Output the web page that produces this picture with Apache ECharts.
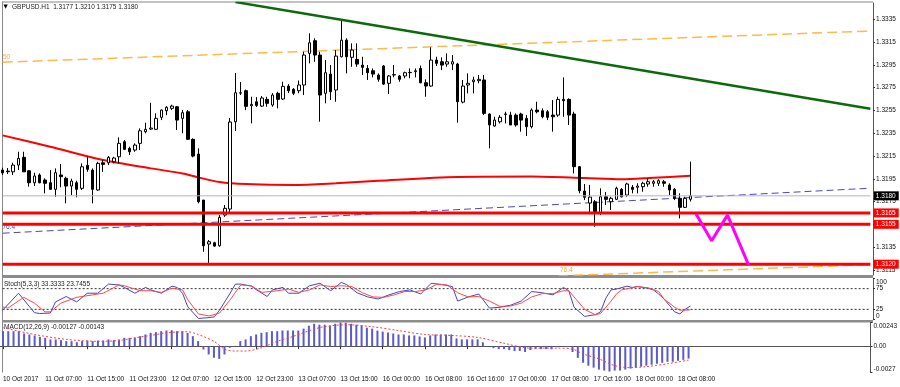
<!DOCTYPE html>
<html><head><meta charset="utf-8">
<script src="https://cdn.jsdelivr.net/npm/echarts@6/dist/echarts.min.js"></script>
<style>html,body{margin:0;padding:0;background:#fff}#c{width:900px;height:387px}</style>
</head><body><div id="c"></div>
<script>
// ---------- DATA ----------
const symbol = 'GBPUSD.H1';
const open = [1.32026,1.32017,1.32011,1.32070,1.32138,1.32020,1.31915,1.31983,1.31939,1.31915,1.31857,1.31983,1.31954,1.31886,1.31915,1.31866,1.32068,1.32026,1.31851,1.32090,1.32090,1.32099,1.32143,1.32275,1.32217,1.32202,1.32261,1.32363,1.32386,1.32384,1.32489,1.32547,1.32568,1.32582,1.32480,1.32538,1.32296,1.32167,1.31763,1.31377,1.31388,1.31362,1.31631,1.31684,1.32450,1.32702,1.32723,1.32591,1.32626,1.32588,1.32647,1.32597,1.32700,1.32650,1.32764,1.32735,1.32723,1.32773,1.33051,1.33162,1.33036,1.32700,1.32869,1.32729,1.33021,1.33167,1.33016,1.32998,1.32948,1.32919,1.32898,1.32861,1.32940,1.32788,1.32861,1.32852,1.32852,1.32881,1.32890,1.32918,1.32793,1.32764,1.32992,1.32977,1.32957,1.32957,1.32957,1.32623,1.32773,1.32802,1.32811,1.32817,1.32518,1.32413,1.32450,1.32518,1.32509,1.32509,1.32518,1.32480,1.32407,1.32553,1.32547,1.32538,1.32509,1.32509,1.32647,1.32647,1.32518,1.32056,1.31842,1.31737,1.31748,1.31646,1.31792,1.31748,1.31769,1.31857,1.31807,1.31875,1.31875,1.31880,1.31904,1.31910,1.31910,1.31924,1.31895,1.31857,1.31778,1.31699,1.3177];
const high = [1.32047,1.32044,1.32091,1.32187,1.32187,1.32026,1.32003,1.31997,1.31954,1.32026,1.32041,1.32079,1.31968,1.31950,1.31933,1.32085,1.32143,1.32041,1.32099,1.32114,1.32149,1.32143,1.32313,1.32290,1.32231,1.32261,1.32392,1.32442,1.32617,1.32524,1.32559,1.32588,1.32600,1.32588,1.32553,1.32553,1.32305,1.32217,1.31763,1.31412,1.31397,1.31631,1.31719,1.32483,1.32878,1.32799,1.32733,1.32670,1.32667,1.32676,1.32670,1.32702,1.32714,1.32802,1.32781,1.32746,1.32812,1.33065,1.33227,1.33183,1.33065,1.32992,1.32948,1.33080,1.33345,1.33183,1.33139,1.33139,1.33021,1.32948,1.32919,1.32875,1.32948,1.32861,1.32948,1.32861,1.32890,1.32919,1.32919,1.32944,1.32823,1.33104,1.33021,1.33016,1.33051,1.33036,1.32968,1.32817,1.32875,1.32846,1.32861,1.32861,1.32524,1.32494,1.32509,1.32538,1.32538,1.32524,1.32530,1.32509,1.32568,1.32626,1.32568,1.32553,1.32641,1.32670,1.32840,1.32656,1.32538,1.32062,1.31904,1.31895,1.31763,1.31866,1.31833,1.31792,1.31880,1.31868,1.31915,1.31895,1.31910,1.31924,1.31954,1.31939,1.31945,1.31939,1.31910,1.31868,1.31822,1.31792,1.3210];
const low = [1.31983,1.31991,1.31983,1.32026,1.32009,1.31880,1.31886,1.31910,1.31822,1.31851,1.31792,1.31875,1.31734,1.31807,1.31787,1.31851,1.32011,1.31734,1.31845,1.32011,1.32070,1.32085,1.32085,1.32202,1.32158,1.32187,1.32202,1.32349,1.32378,1.32378,1.32465,1.32509,1.32553,1.32378,1.32349,1.32290,1.32138,1.31734,1.31309,1.31192,1.31353,1.31353,1.31616,1.31658,1.32369,1.32685,1.32553,1.32436,1.32580,1.32580,1.32582,1.32582,1.32568,1.32641,1.32702,1.32685,1.32700,1.32685,1.32963,1.32977,1.32451,1.32612,1.32641,1.32626,1.33016,1.32875,1.32933,1.32933,1.32861,1.32817,1.32840,1.32802,1.32773,1.32694,1.32840,1.32802,1.32832,1.32832,1.32840,1.32788,1.32670,1.32758,1.32940,1.32904,1.32933,1.32904,1.32442,1.32612,1.32700,1.32700,1.32788,1.32509,1.32217,1.32407,1.32436,1.32436,1.32422,1.32407,1.32363,1.32325,1.32392,1.32524,1.32480,1.32465,1.32363,1.32494,1.32494,1.32422,1.31997,1.31822,1.31763,1.31646,1.31529,1.31631,1.31719,1.31675,1.31763,1.31785,1.31792,1.31822,1.31822,1.31836,1.31880,1.31880,1.31886,1.31880,1.31807,1.31763,1.31602,1.31693,1.3175];
const close = [1.32002,1.32012,1.32070,1.32129,1.32011,1.31915,1.31974,1.31915,1.31910,1.31857,1.32003,1.31968,1.31886,1.31930,1.31857,1.32055,1.32033,1.31857,1.32085,1.32076,1.32138,1.32132,1.32261,1.32208,1.32187,1.32246,1.32371,1.32384,1.32395,1.32480,1.32553,1.32577,1.32588,1.32465,1.32530,1.32296,1.32149,1.31748,1.31362,1.31397,1.31359,1.31611,1.31690,1.32448,1.32705,1.32705,1.32586,1.32603,1.32594,1.32659,1.32612,1.32685,1.32647,1.32761,1.32723,1.32700,1.32773,1.33036,1.33144,1.33036,1.32685,1.32881,1.32714,1.33027,1.33167,1.33021,1.33080,1.32957,1.32928,1.32881,1.32869,1.32823,1.32781,1.32852,1.32864,1.32823,1.32881,1.32884,1.32898,1.32793,1.32764,1.32992,1.32963,1.32948,1.32977,1.32977,1.32626,1.32764,1.32788,1.32817,1.32823,1.32524,1.32422,1.32465,1.32489,1.32515,1.32422,1.32422,1.32465,1.32407,1.32553,1.32538,1.32494,1.32489,1.32494,1.32647,1.32635,1.32509,1.32056,1.31845,1.31787,1.31789,1.31660,1.31792,1.31769,1.31778,1.31866,1.31792,1.31904,1.31857,1.31886,1.31910,1.31924,1.31924,1.31933,1.31910,1.31851,1.31778,1.31699,1.31778,1.3180];

const timeLabels = ['10 Oct 2017','11 Oct 07:00','11 Oct 15:00','11 Oct 23:00','12 Oct 07:00','12 Oct 15:00','12 Oct 23:00','13 Oct 07:00','13 Oct 15:00','16 Oct 00:00','16 Oct 08:00','16 Oct 16:00','17 Oct 00:00','17 Oct 08:00','17 Oct 16:00','18 Oct 00:00','18 Oct 08:00'];
const totalSlots = 165;
const priceTicks = [1.3115,1.3135,1.3155,1.3175,1.3195,1.3215,1.3235,1.3255,1.3275,1.3295,1.3315,1.3335];
const priceMin = 1.31105, priceMax = 1.33493;
const redLevels = [1.3165, 1.3155, 1.3120];

// moving average read at sample bars [barIndex, price]
const redMA = [[0,1.32331],[9,1.32231],[19,1.32114],[28,1.32041],[34,1.31997],[37,1.31962],[41,1.31921],[46,1.31903],[55,1.31895],[63,1.31910],[71,1.31932],[86,1.31965],[100,1.31969],[110,1.31956],[117,1.31945],[123,1.31959],[130,1.31976]];
// drawn objects [barIndex, price]
const greenTrend = [[44,1.33501],[64,1.33345],[164,1.32565]];
const blueDashed = [[0,1.31472],[164,1.31867]];
const orangeUpper = [[0,1.32973],[164,1.33247]];
const orangeLower = [[105,1.31097],[164,1.31196]];
const magentaPath = [[131,1.31646],[134,1.31406],[137,1.31631],[141,1.31192]];

// Stochastic (5,3,3) read at sample bars
const stochK = [[0,23],[3,64],[6,17],[7,15],[9,16],[10,43],[12,56],[14,43],[16,64],[18,64],[20,86],[22,84],[23,78],[25,64],[27,78],[28,72],[30,64],[32,81],[33,78],[34,64],[35,31],[37,3],[39,5],[40,7],[41,23],[43,64],[44,86],[45,86],[47,81],[48,72],[50,56],[51,72],[53,78],[54,64],[56,64],[58,82],[60,88],[62,70],[64,90],[65,85],[67,65],[69,55],[71,50],[73,60],[75,68],[77,72],[79,62],[81,88],[83,85],[85,80],[86,45],[88,55],[90,62],[92,28],[94,30],[96,35],[98,45],[100,68],[102,65],[104,60],[106,78],[107,70],[108,30],[110,8],[112,12],[113,19],[114,52],[115,72],[116,74],[118,81],[119,78],[120,80],[121,78],[122,76],[123,72],[124,62],[125,50],[126,35],[127,19],[128,14],[129,25],[130,33.3333]];
const stochD = [[0,31],[1,28],[4,54],[6,40],[8,19],[9,19],[11,40],[14,54],[17,60],[19,64],[22,84],[23,82],[26,70],[28,70],[30,66],[32,76],[34,72],[35,48],[37,14],[39,9],[41,16],[43,48],[45,84],[47,82],[49,66],[52,70],[54,74],[56,66],[58,72],[60,84],[62,80],[64,82],[66,80],[68,65],[70,55],[72,54],[74,60],[76,68],[78,68],[80,72],[82,85],[84,84],[86,65],[88,55],[90,56],[92,45],[94,32],[96,33],[98,40],[100,55],[102,63],[104,63],[106,70],[107,70],[108,55],[110,25],[112,12],[113,15],[115,45],[116,62],[117,72],[120,80],[122,77],[124,68],[125,50],[127,30],[128,23],[129,23],[130,23.7455]];
const stochTicks = [0,25,75,100];
const stochLevels = [75, 25];

// MACD (12,26,9)
const macdMain = [0.00154,0.00154,0.00154,0.00154,0.00130,0.00120,0.00110,0.00096,0.00086,0.00069,0.00069,0.00062,0.00052,0.00052,0.00041,0.00052,0.00058,0.00052,0.00058,0.00058,0.00069,0.00062,0.00069,0.00086,0.00086,0.00086,0.00103,0.00120,0.00137,0.00144,0.00154,0.00161,0.00164,0.00154,0.00154,0.00137,0.00103,0.00052,-0.00034,-0.00085,-0.00119,-0.00130,-0.00085,-0.00017,0.00003,0.00052,0.00069,0.00103,0.00120,0.00137,0.00144,0.00154,0.00154,0.00161,0.00161,0.00161,
0.00160,0.00180,0.00210,0.00230,0.00220,0.00220,0.00210,0.00230,0.00243,0.00240,0.00230,0.00220,0.00210,0.00190,0.00180,0.00160,0.00150,0.00140,0.00130,0.00120,0.00120,0.00110,0.00110,0.00100,0.00090,0.00110,0.00120,0.00120,0.00120,0.00120,0.00080,0.00070,0.00070,0.00070,0.00070,0.00040,0.00000,-0.00020,-0.00030,-0.00030,-0.00040,-0.00050,-0.00050,-0.00060,-0.00040,-0.00030,-0.00030,-0.00030,-0.00030,-0.00010,0.00000,-0.00010,-0.00060,-0.00120,-0.00170,-0.00200,-0.00220,
-0.00240,-0.00250,-0.00260,-0.00250,-0.00250,-0.00240,-0.00230,-0.00220,-0.00210,-0.00200,-0.00190,-0.00180,-0.00170,-0.00160,-0.00160,-0.00150,-0.00140,-0.00127];
const macdSignal = [[0,0.0019],[6,0.0012],[12,0.0007],[18,0.0005],[22,0.00058],[25,0.00086],[28,0.0011],[31,0.00137],[35,0.00148],[37,0.0012],[40,0.0005],[42,-0.0003],[44,-0.0005],[46,-0.0005],[49,-0.00016],[52,0.0005],[55,0.001],[60,0.0019],[65,0.0022],[70,0.0020],[75,0.0016],[80,0.0012],[85,0.0011],[90,0.0009],[95,0.0003],[100,-0.0002],[105,-0.0002],[108,-0.0003],[110,-0.0008],[113,-0.0013],[116,-0.0020],[119,-0.0022],[122,-0.0021],[126,-0.0018],[130,-0.00143]];
const macdTicks = [-0.0027, 0, 0.00243];
const macdTickText = ['-0.0027','0.00','0.00243'];

// ---------- CHART ----------
const FONT = 'Liberation Sans';
const FS = 6.5;
const last = close.length - 1;
const endSlot = totalSlots - 1;
const cats = Array.from({length: totalSlots}, (_, i) => 'b' + i);
const candles = open.map((o, i) => [o, close[i], low[i], high[i]]);
const showTime = (idx) => idx % 8 === 0 && idx / 8 < timeLabels.length;

const chart = echarts.init(document.getElementById('c'), null, {renderer: 'canvas'});
const xBase = (g, extra) => Object.assign({
  type: 'category', gridIndex: g, data: cats, boundaryGap: true,
  axisLine: {show: false}, axisTick: {show: false}, axisLabel: {show: false}, splitLine: {show: false}
}, extra || {});
const yBase = (g, extra) => Object.assign({
  type: 'value', gridIndex: g, position: 'right', scale: true,
  splitLine: {show: false},
  axisLine: {show: true, lineStyle: {color: '#555', width: 1}},
}, extra);
// horizontal level as a line series across all slots, with a price box at its right end
const levelSeries = (v, color, width, boxColor) => ({
  type: 'line', xAxisIndex: 0, yAxisIndex: 0, symbol: 'none', z: 5, silent: true,
  data: [[0, v], [endSlot, v]],
  lineStyle: {color: color, width: width},
  endLabel: {show: true, formatter: v.toFixed(4), distance: 3.5, backgroundColor: boxColor, color: '#fff',
    padding: [1, 3, 1, 2], fontSize: FS, fontFamily: FONT}
});
const hLine = (xi, yi, v) => ({
  type: 'line', xAxisIndex: xi, yAxisIndex: yi, symbol: 'none', z: 3, silent: true,
  data: [[0, v], [endSlot, v]], lineStyle: {color: '#333', width: 1, type: [2, 2]}
});

const option = {
  animation: false,
  backgroundColor: '#fff',
  grid: [
    {left: 0, right: 27, top: 3, height: 272},
    {left: 0, right: 27, top: 278.3, height: 41.4},
    {left: 0, right: 27, top: 322.5, height: 50}
  ],
  xAxis: [
    xBase(0), xBase(1),
    xBase(2, {
      axisLine: {show: true, lineStyle: {color: '#555'}},
      axisTick: {show: true, alignWithLabel: true, interval: showTime, length: 3, lineStyle: {color: '#333'}},
      axisLabel: {show: true, interval: showTime, align: 'left', margin: 3,
        formatter: (v, idx) => timeLabels[idx / 8] || '', fontSize: FS, fontFamily: FONT, color: '#111'}
    })
  ],
  yAxis: [
    yBase(0, {min: priceMin, max: priceMax,
      axisTick: {show: true, length: 2, customValues: priceTicks, lineStyle: {color: '#333'}},
      axisLabel: {customValues: priceTicks, formatter: v => v.toFixed(4), margin: 3, fontSize: FS, fontFamily: FONT, color: '#111'}}),
    yBase(1, {min: 0, max: 100,
      axisTick: {show: true, length: 2, customValues: stochTicks, lineStyle: {color: '#333'}},
      axisLabel: {customValues: stochTicks, margin: 3, fontSize: FS, fontFamily: FONT, color: '#111',
        verticalAlignMaxLabel: 'top', verticalAlignMinLabel: 'bottom'}}),
    yBase(2, {min: -0.0027, max: 0.00243,
      axisTick: {show: true, length: 2, customValues: macdTicks, lineStyle: {color: '#333'}},
      axisLabel: {customValues: macdTicks, margin: 3, fontSize: FS, fontFamily: FONT, color: '#111',
        formatter: v => macdTickText[macdTicks.findIndex(t => Math.abs(t - v) < 1e-7)] || '',
        verticalAlignMaxLabel: 'top', verticalAlignMinLabel: 'bottom'}})
  ],
  series: [
    {type: 'line', name: 'orangeUpper', xAxisIndex: 0, yAxisIndex: 0, data: orangeUpper, symbol: 'none', z: 3,
      lineStyle: {color: '#ffb84a', width: 1.5, type: [10, 5]}},
    {type: 'line', name: 'orangeLower', xAxisIndex: 0, yAxisIndex: 0, data: orangeLower, symbol: 'none', z: 3,
      lineStyle: {color: '#ffb84a', width: 1.5, type: [10, 5]}},
    {type: 'line', name: 'blueDashed', xAxisIndex: 0, yAxisIndex: 0, data: blueDashed, symbol: 'none', z: 3,
      lineStyle: {color: '#4a4ab8', width: 1, type: [7, 4]}},
    {type: 'line', name: 'redMA', xAxisIndex: 0, yAxisIndex: 0, data: redMA, symbol: 'none', z: 3, smooth: 0.3,
      lineStyle: {color: '#ff0000', width: 2}},
    {type: 'candlestick', xAxisIndex: 0, yAxisIndex: 0, data: candles, barWidth: 3, z: 4,
      itemStyle: {color: '#ffffff', color0: '#000000', borderColor: '#000000', borderColor0: '#000000', borderColorDoji: '#000000', borderWidth: 1}},
    levelSeries(close[last], '#b4b4c4', 1, '#000000'),
    ...redLevels.map(v => levelSeries(v, '#ff0000', 3, '#ff0000')),
    {type: 'line', name: 'green', xAxisIndex: 0, yAxisIndex: 0, symbol: 'none', z: 6,
      data: greenTrend.map((p, k) => k === 1 ? {value: p, symbol: 'rect', symbolSize: 5, itemStyle: {color: '#0b6b0b'}} : {value: p}),
      showSymbol: true, lineStyle: {color: '#0b6b0b', width: 2.5}},
    {type: 'line', name: 'magenta', xAxisIndex: 0, yAxisIndex: 0, data: magentaPath, symbol: 'none', z: 6,
      lineStyle: {color: '#ff00ff', width: 3}},
    ...stochLevels.map(v => hLine(1, 1, v)),
    {type: 'line', name: 'K', xAxisIndex: 1, yAxisIndex: 1, data: stochK, symbol: 'none', z: 4,
      lineStyle: {color: '#4646c0', width: 1}},
    {type: 'line', name: 'D', xAxisIndex: 1, yAxisIndex: 1, data: stochD, symbol: 'none', z: 4,
      lineStyle: {color: '#ff4848', width: 1}},
    {type: 'bar', name: 'MACD', xAxisIndex: 2, yAxisIndex: 2, data: macdMain, barWidth: 2, z: 3,
      itemStyle: {color: '#5a5ac8'}},
    {type: 'line', name: 'Signal', xAxisIndex: 2, yAxisIndex: 2, data: macdSignal, symbol: 'none', z: 4, smooth: 0.3,
      lineStyle: {color: '#ff4040', width: 1, type: [2, 2]}}
  ],
  graphic: [
    {type: 'rect', shape: {x: 2, y: 1.5, width: 871, height: 1}, style: {fill: '#888'}, silent: true},
    {type: 'rect', shape: {x: 2, y: 1.5, width: 1, height: 371}, style: {fill: '#888'}, silent: true},
    {type: 'rect', shape: {x: 2, y: 275, width: 871, height: 3}, style: {fill: '#8c8c8c'}, silent: true},
    {type: 'rect', shape: {x: 2, y: 320, width: 871, height: 2.5}, style: {fill: '#8c8c8c'}, silent: true},
    {type: 'text', x: 3.5, y: 7, style: {text: '▼', fontSize: 5.5, fontFamily: 'DejaVu Sans', fill: '#000', verticalAlign: 'middle'}},
    {type: 'text', x: 12, y: 7, style: {text: symbol + '  ' + [open[last], high[last], low[last], close[last]].map(v => v.toFixed(4)).join(' '), fontSize: FS, fontFamily: FONT, fill: '#222', verticalAlign: 'middle'}},
    {type: 'text', x: 3, y: 57, style: {text: '50', fontSize: FS, fontFamily: FONT, fill: '#ffaa30', verticalAlign: 'middle'}},
    {type: 'text', x: 2.5, y: 227.5, style: {text: '76.4', fontSize: FS, fontFamily: FONT, fill: '#4a4ab8', verticalAlign: 'middle'}},
    {type: 'text', x: 560, y: 270, style: {text: '76.4', fontSize: FS, fontFamily: FONT, fill: '#ffaa30', verticalAlign: 'middle'}},
    {type: 'text', x: 4, y: 284, style: {text: 'Stoch(5,3,3) ' + stochK[stochK.length - 1][1].toFixed(4) + ' ' + stochD[stochD.length - 1][1].toFixed(4), fontSize: FS, fontFamily: FONT, fill: '#222', verticalAlign: 'middle'}},
    {type: 'text', x: 4, y: 327.5, style: {text: 'MACD(12,26,9) ' + macdMain[last].toFixed(5) + ' ' + macdSignal[macdSignal.length - 1][1].toFixed(5), fontSize: FS, fontFamily: FONT, fill: '#222', verticalAlign: 'middle'}}
  ]
};
chart.setOption(option);
</script></body></html>
